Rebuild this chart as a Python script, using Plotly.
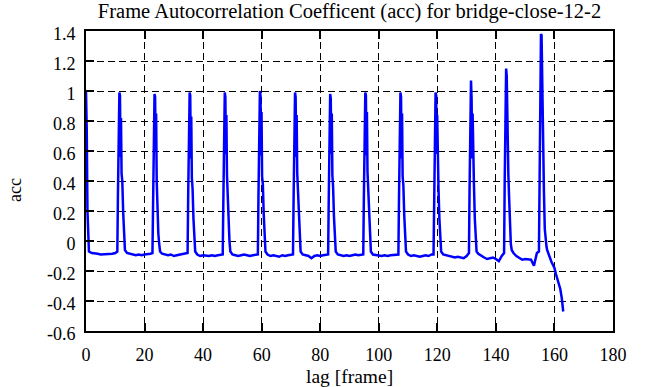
import plotly.graph_objects as go

# ---- data ----
start_lag = [0.0, 0.25, 0.5, 0.75]
start_acc = [1.0, 0.75, 0.2, 0.0]

# lag where each peak reaches its top, and shape samples around it
peak_tops = [11.5, 23.5, 35.5, 47.5, 59.5, 71.5, 83.5, 95.5, 107.5, 119.5, 131.6, 143.6, 155.5]
peak_offsets = [-0.8, -0.6, -0.35, -0.1, 0.1, 0.3, 0.45, 0.65, 0.9, 1.2, 1.5, 1.8]
peak_vals = [
    [-0.07, 0.29, 0.65, 0.99, 0.97, 0.56, 0.82, 0.45, 0.40, 0.19, 0.02, -0.06],
    [-0.08, 0.21, 0.56, 0.98, 0.96, 0.60, 0.85, 0.40, 0.14, 0.05, -0.02, -0.07],
    [-0.08, 0.30, 0.66, 0.99, 0.97, 0.55, 0.83, 0.42, 0.35, 0.15, 0.01, -0.07],
    [-0.09, 0.25, 0.63, 0.99, 0.96, 0.58, 0.84, 0.44, 0.30, 0.12, 0.00, -0.07],
    [-0.09, 0.29, 0.65, 1.00, 0.97, 0.57, 0.86, 0.43, 0.38, 0.18, 0.02, -0.07],
    [-0.09, 0.27, 0.64, 0.99, 0.96, 0.56, 0.84, 0.45, 0.33, 0.14, 0.01, -0.07],
    [-0.09, 0.26, 0.62, 0.98, 0.95, 0.58, 0.85, 0.44, 0.36, 0.16, 0.00, -0.07],
    [-0.09, 0.28, 0.65, 0.99, 0.97, 0.57, 0.86, 0.46, 0.34, 0.15, 0.01, -0.07],
    [-0.09, 0.27, 0.63, 0.99, 0.96, 0.55, 0.85, 0.43, 0.37, 0.17, 0.00, -0.07],
    [-0.09, 0.28, 0.64, 0.99, 0.97, 0.58, 0.84, 0.45, 0.35, 0.15, 0.00, -0.07],
    [-0.08, 0.33, 0.75, 1.07, 0.95, 0.55, 0.85, 0.40, 0.38, 0.15, 0.00, -0.07],
    [-0.08, 0.38, 0.85, 1.15, 1.10, 0.70, 0.90, 0.45, 0.30, 0.10, -0.02, -0.06],
    [-0.07, 0.46, 0.96, 1.38, 1.37, 1.05, 1.20, 0.56, 0.34, 0.08, -0.02, -0.04],
]

# baseline before each peak: lags 1..10 before the first, then 12k+2 .. 12k+10
gap_first_lag = [1, 14, 26, 38, 50, 62, 74, 86, 98, 110, 122, 134, 146]
gap_vals = [
    [-0.07, -0.08, -0.08, -0.085, -0.09, -0.09, -0.09, -0.09, -0.085, -0.08],
    [-0.08, -0.085, -0.09, -0.095, -0.09, -0.095, -0.09, -0.09, -0.085],
    [-0.085, -0.09, -0.095, -0.09, -0.10, -0.095, -0.09, -0.09, -0.085],
    [-0.09, -0.10, -0.095, -0.10, -0.10, -0.095, -0.10, -0.095, -0.09],
    [-0.09, -0.095, -0.10, -0.095, -0.09, -0.095, -0.10, -0.095, -0.09],
    [-0.09, -0.10, -0.095, -0.10, -0.105, -0.095, -0.10, -0.095, -0.09],
    [-0.09, -0.095, -0.10, -0.115, -0.10, -0.095, -0.10, -0.095, -0.09],
    [-0.09, -0.095, -0.10, -0.095, -0.10, -0.095, -0.09, -0.095, -0.09],
    [-0.09, -0.095, -0.10, -0.10, -0.095, -0.10, -0.095, -0.095, -0.09],
    [-0.09, -0.10, -0.095, -0.10, -0.105, -0.10, -0.095, -0.10, -0.09],
    [-0.09, -0.095, -0.10, -0.10, -0.11, -0.105, -0.11, -0.115, -0.10],
    [-0.085, -0.10, -0.11, -0.12, -0.115, -0.11, -0.12, -0.135, -0.10],
    [-0.08, -0.10, -0.115, -0.125, -0.12, -0.122, -0.125, -0.165, -0.08],
]

tail_lag = [157.5, 158.0, 158.5, 159.0, 159.5, 160.0, 160.5, 161.0, 161.5, 162.0, 162.5, 163.0]
tail_acc = [-0.06, -0.09, -0.12, -0.14, -0.16, -0.18, -0.22, -0.25, -0.28, -0.32, -0.38, -0.47]

x_tick_vals = [0, 20, 40, 60, 80, 100, 120, 140, 160, 180]
x_tick_text = ["0", "20", "40", "60", "80", "100", "120", "140", "160", "180"]
y_tick_vals = [-0.6, -0.4, -0.2, 0, 0.2, 0.4, 0.6, 0.8, 1.0, 1.2, 1.4]
y_tick_text = ["-0.6", "-0.4", "-0.2", "0", "0.2", "0.4", "0.6", "0.8", "1", "1.2", "1.4"]

# ---- assemble the series ----
lag = list(start_lag)
acc = list(start_acc)
for k in range(13):
    for i, v in enumerate(gap_vals[k]):
        lag.append(gap_first_lag[k] + i)
        acc.append(v)
    for off, v in zip(peak_offsets, peak_vals[k]):
        lag.append(peak_tops[k] + off)
        acc.append(v)
lag += tail_lag
acc += tail_acc

FONT = "Liberation Serif"

fig = go.Figure()
fig.add_trace(go.Scatter(x=lag, y=acc, mode="lines",
                         line=dict(color="#0000ff", width=2.5),
                         showlegend=False, hoverinfo="skip"))

axis_common = dict(
    showline=True, linecolor="black", linewidth=2, mirror="allticks",
    ticks="inside", ticklen=8, tickwidth=1.5, tickcolor="black",
    showgrid=True, gridcolor="black", gridwidth=1, griddash="7px,4px",
    zeroline=False, automargin=False,
    tickfont=dict(family=FONT, size=18, color="black"),
)

fig.update_xaxes(range=[0, 180], tickvals=x_tick_vals, ticktext=x_tick_text,
                 ticklabelstandoff=6, **axis_common)
fig.update_yaxes(range=[-0.6, 1.4], tickvals=y_tick_vals, ticktext=y_tick_text,
                 ticklabelstandoff=5, ticklabelshift=3, **axis_common)

fig.update_layout(
    width=661, height=387,
    margin=dict(l=86, r=48, t=31, b=56, autoexpand=False),
    paper_bgcolor="white", plot_bgcolor="white",
    font=dict(family=FONT, size=18, color="black"),
    title=dict(text="Frame Autocorrelation Coefficent (acc) for bridge-close-12-2",
               x=0.5, xref="paper", y=1 - 11 / 387, yref="container",
               yanchor="middle", xanchor="center",
               font=dict(family=FONT, size=20.5, color="black")),
    annotations=[
        dict(text="acc", xref="paper", yref="paper", x=-0.1347, y=0.47,
             showarrow=False, xanchor="center", yanchor="middle", textangle=-90,
             font=dict(family=FONT, size=18, color="black")),
        dict(text="lag [frame]", xref="paper", yref="paper", x=0.5, y=-0.15,
             showarrow=False, xanchor="center", yanchor="middle",
             font=dict(family=FONT, size=19.5, color="black")),
    ],
)

fig.write_html("out.html", config={"displayModeBar": False},
               post_script="document.body.style.margin='0';document.body.style.padding='0';")
